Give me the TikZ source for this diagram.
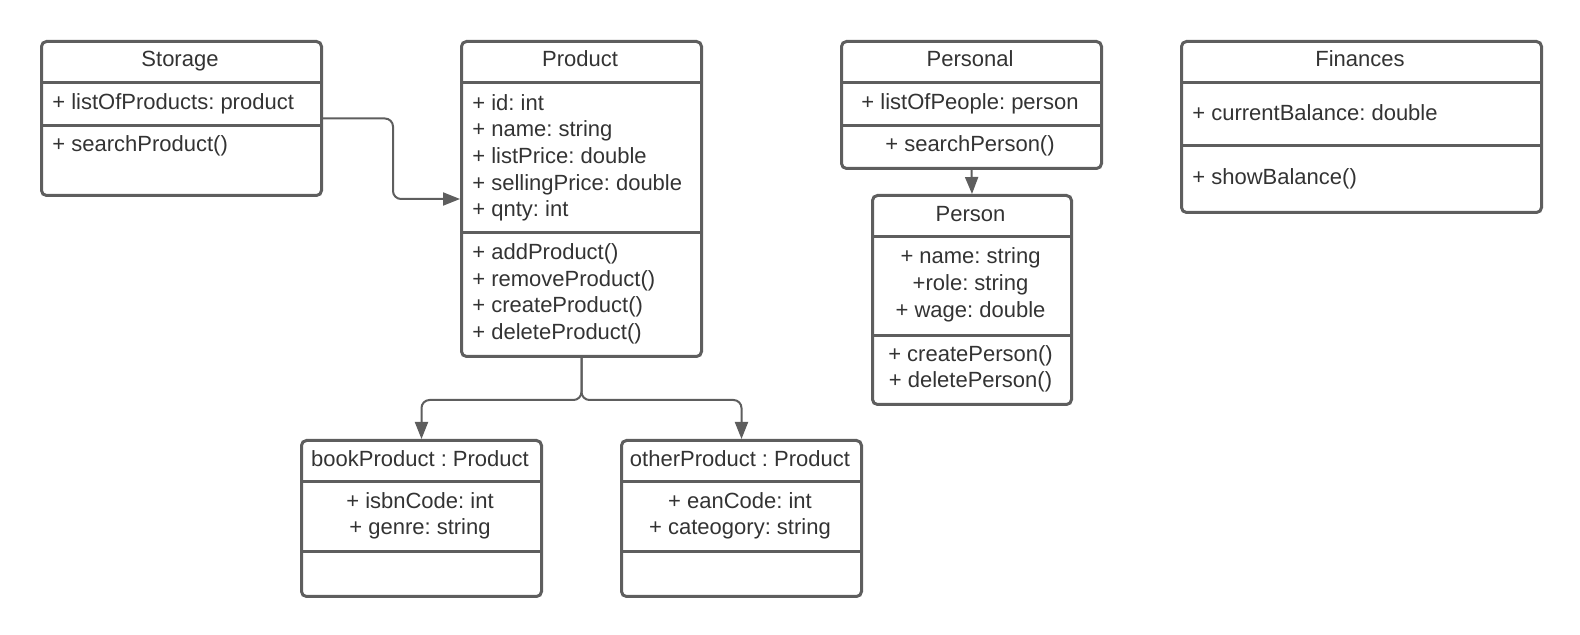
\documentclass[tikz,border=0pt]{standalone}
\usepackage{fontspec}
\setmainfont{Liberation Sans}
\usepackage{xcolor}
\usetikzlibrary{arrows.meta, positioning, calc}
\frenchspacing

\definecolor{linegray}{HTML}{5E5E5E}
\definecolor{textgray}{HTML}{333333}

\tikzset{
	classbox/.style={draw=linegray, line width=1.5pt, rounded corners=2.5pt, anchor=north west, inner sep=0pt},
	divider/.style={draw=linegray, line width=1.5pt},
	label/.style={inner sep=0pt, yshift=-1.4pt, text=textgray, font=\fontsize{11}{13.3}\selectfont},
	oneline/.style={label, text height=8pt, text depth=2.3pt},
	link/.style={draw=linegray, line width=1pt, rounded corners=4pt, -{Triangle[length=8.5pt,width=6.5pt]}}
}

\begin{document}
\begin{tikzpicture}[x=0.5pt, y=-0.5pt]
		\useasboundingbox (0,0) rectangle (1580,635);

		% boxes
		\node[classbox, minimum width=140pt, minimum height=77pt] (Storage) at (40,40) {};
		\node[classbox, minimum width=120pt, minimum height=157.5pt] (Product) at (460,40) {};
		\node[classbox, minimum width=130pt, minimum height=63.5pt] (Personal) at (840,40) {};
		\node[classbox, minimum width=99.5pt, minimum height=104.5pt] (Person) at (871,194) {};
		\node[classbox, minimum width=180pt, minimum height=85.5pt] (Finances) at (1180,40) {};
		\node[classbox, minimum width=120pt, minimum height=78pt] (bookProduct) at (300,439) {};
		\node[classbox, minimum width=120pt, minimum height=78pt] (otherProduct) at (620,439) {};

		\foreach \n/\y in {Storage/83, Storage/126, Product/83, Product/233, Personal/83, Personal/126,
			Person/237, Person/336, Finances/83, Finances/146, bookProduct/482, bookProduct/552,
			otherProduct/482, otherProduct/552}
			\draw[divider] (\n.west |- 0,\y) -- (\n.east |- 0,\y);

		% Storage
		\node[oneline] (Storage title) at (180,58) {Storage};
		\node[oneline, anchor=west] (Storage attrs) at (52,101) {+ listOfProducts: product};
		\node[oneline, anchor=west] (Storage methods) at (52,143) {+ searchProduct()};

		% Product
		\node[oneline] (Product title) at (580,58) {Product};
		\node[label, anchor=west, align=left] (Product attrs) at (472,155) {+ id: int\\
			+ name: string\\
			+ listPrice: double\\
			+ sellingPrice: double\\
			+ qnty: int};
		\node[label, anchor=west, align=left] (Product methods) at (472,291) {+ addProduct()\\
			+ removeProduct()\\
			+ createProduct()\\
			+ deleteProduct()};

		% Personal
		\node[oneline] (Personal title) at (970,58) {Personal};
		\node[oneline] (Personal attrs) at (970,101) {+ listOfPeople: person};
		\node[oneline] (Personal methods) at (970,143) {+ searchPerson()};

		% Person
		\node[oneline] (Person title) at (970.5,213) {Person};
		\node[label, align=center] (Person attrs) at (970.5,282) {+ name: string\\
			+role: string\\
			+ wage: double};
		\node[label, align=center] (Person methods) at (970.5,366) {+ createPerson()\\
			+ deletePerson()};

		% Finances
		\node[oneline] (Finances title) at (1360,58) {Finances};
		\node[oneline, anchor=west] (Finances attrs) at (1192,112) {+ currentBalance: double};
		\node[oneline, anchor=west] (Finances methods) at (1192,176) {+ showBalance()};

		% subclasses
		\node[oneline] (bookProduct title) at (420,458) {bookProduct : Product};
		\node[label, align=center] (bookProduct attrs) at (420,513) {+ isbnCode: int\\
			+ genre: string};
		\node[oneline] (otherProduct title) at (740,458) {otherProduct : Product};
		\node[label, align=center] (otherProduct attrs) at (740,513) {+ eanCode: int\\
			+ cateogory: string};

		% links
		\draw[link] (Storage.east) -- ++(70,0) |- (Product.west);
		\draw[link] (Product.south) -- ++(0,42) -| (bookProduct.north);
		\draw[link] (Product.south) -- ++(0,42) -| (otherProduct.north);
		\draw[link] (Personal.south) -- (Person.north);
	\end{tikzpicture}
\end{document}
